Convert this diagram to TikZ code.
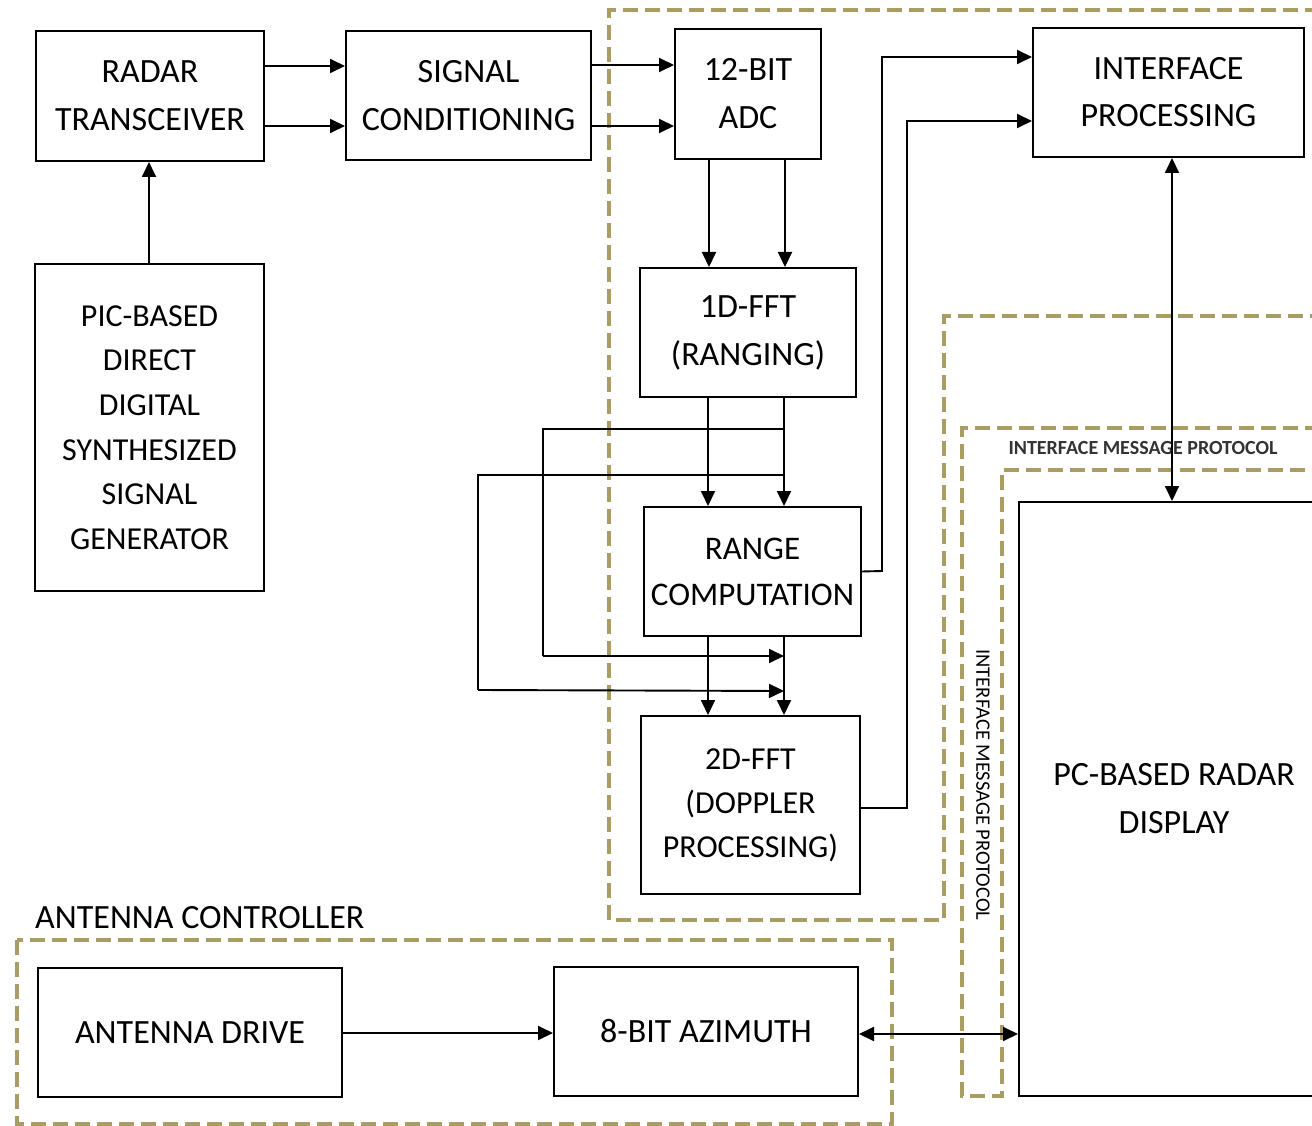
\documentclass[tikz,border=0pt]{standalone}
\usepackage{fontspec}
\setmainfont{Carlito}
\usetikzlibrary{arrows.meta}
\definecolor{dashc}{HTML}{A99D63}
\tikzset{
  box/.style={draw, line width=2pt, align=center, inner sep=0pt, font=\fontsize{34}{48}\selectfont},
  arr/.style={line width=1.9pt, -{Triangle[length=15pt,width=14pt]}},
  darr/.style={line width=1.9pt, {Triangle[length=15pt,width=14pt]}-{Triangle[length=15pt,width=14pt]}},
  ln/.style={line width=1.9pt},
  region/.style={draw=dashc, line width=3.5pt, dash pattern=on 15pt off 7pt},
}
\begin{document}
\begin{tikzpicture}[x=1pt,y=-1pt]
\useasboundingbox (0,0) rectangle (1312,1126);
% dashed regions
\draw[region] (1320,10) -- (609,10) -- (609,920) -- (944,920) -- (944,316) -- (1320,316);
\draw[region] (1320,428) -- (962,428) -- (962,1096) -- (1002,1096) -- (1002,470) -- (1320,470);
\draw[region] (17,940) rectangle (892,1124);
\node[anchor=west, font=\fontsize{34}{36}\selectfont, inner sep=0pt] (actl) at (35,918) {ANTENNA CONTROLLER};
\node[font=\bfseries\fontsize{20}{22}\selectfont, text=black!80, inner sep=0pt] (imp1) at (1143,448) {INTERFACE MESSAGE PROTOCOL};
\node[font=\fontsize{20.5}{22}\selectfont, rotate=-90, inner sep=0pt] (imp2) at (983,785) {INTERFACE MESSAGE PROTOCOL};
% boxes
\node[box, minimum width=228pt, minimum height=130pt] (rt) at (150,96) {RADAR\\TRANSCEIVER};
\node[box, minimum width=245pt, minimum height=129pt] (sc) at (468.5,95.5) {SIGNAL\\CONDITIONING};
\node[box, minimum width=146pt, minimum height=130pt] (adc) at (748,94) {12-BIT\\ADC};
\node[box, minimum width=271pt, minimum height=129pt, font=\fontsize{34}{47}\selectfont] (ip) at (1168.5,92.5) {INTERFACE\\PROCESSING};
\node[box, minimum width=229pt, minimum height=327pt, font=\fontsize{32}{44.6}\selectfont] (pic) at (149.5,427.5) {PIC-BASED\\DIRECT\\DIGITAL\\SYNTHESIZED\\SIGNAL\\GENERATOR};
\node[box, minimum width=216pt, minimum height=129pt] (fft1) at (748,332.5) {1D-FFT\\(RANGING)};
\node[box, minimum width=217pt, minimum height=129pt, font=\fontsize{33}{46}\selectfont] (rc) at (752.5,571.5) {RANGE\\COMPUTATION};
\node[box, minimum width=219pt, minimum height=178pt, font=\fontsize{32}{44}\selectfont] (fft2) at (750.5,805) {2D-FFT\\(DOPPLER\\PROCESSING)};
\node[box, minimum width=310pt, minimum height=594pt] (pc) at (1174,799) {PC-BASED RADAR\\DISPLAY};
\node[box, minimum width=304pt, minimum height=129pt] (ad) at (190,1032.5) {ANTENNA DRIVE};
\node[box, minimum width=304pt, minimum height=129pt] (az) at (706,1031.5) {8-BIT AZIMUTH};
% connectors
\draw[arr] (rt.east |- 0,66) -- (sc.west |- 0,66);
\draw[arr] (rt.east |- 0,126) -- (sc.west |- 0,126);
\draw[arr] (sc.east |- 0,65) -- (adc.west |- 0,65);
\draw[arr] (sc.east |- 0,126) -- (adc.west |- 0,126);
\draw[arr] (pic.north -| 149,0) -- (rt.south -| 149,0);
\draw[arr] (adc.south -| 709,0) -- (fft1.north -| 709,0);
\draw[arr] (adc.south -| 785,0) -- (fft1.north -| 785,0);
\draw[arr] (fft1.south -| 708,0) -- (rc.north -| 708,0);
\draw[arr] (fft1.south -| 784,0) -- (rc.north -| 784,0);
\coordinate (j1) at (784,429);
\coordinate (j2) at (784,475);
\coordinate (k1) at (784,656);
\coordinate (k2) at (784,691);
\draw[ln] (j1) -- (543,429) -- (543,656);
\draw[arr] (543,656) -- (k1);
\draw[ln] (j2) -- (478,475) -- (478,690);
\draw[arr] (478,690) -- (k2);
\draw[arr] (rc.south -| 708,0) -- (fft2.north -| 708,0);
\draw[arr] (rc.south -| 784,0) -- (fft2.north -| 784,0);
\draw[arr] (rc.east) -- (882,571) -- (882,57) -- (ip.west |- 0,57);
\draw[arr] (fft2.east |- 0,808) -- (907,808) -- (907,121) -- (ip.west |- 0,121);
\draw[darr] (ip.south -| 1172,0) -- (pc.north -| 1172,0);
\draw[arr] (ad.east |- 0,1033) -- (az.west |- 0,1033);
\draw[darr] (az.east |- 0,1034) -- (pc.west |- 0,1034);
\end{tikzpicture}
\end{document}
